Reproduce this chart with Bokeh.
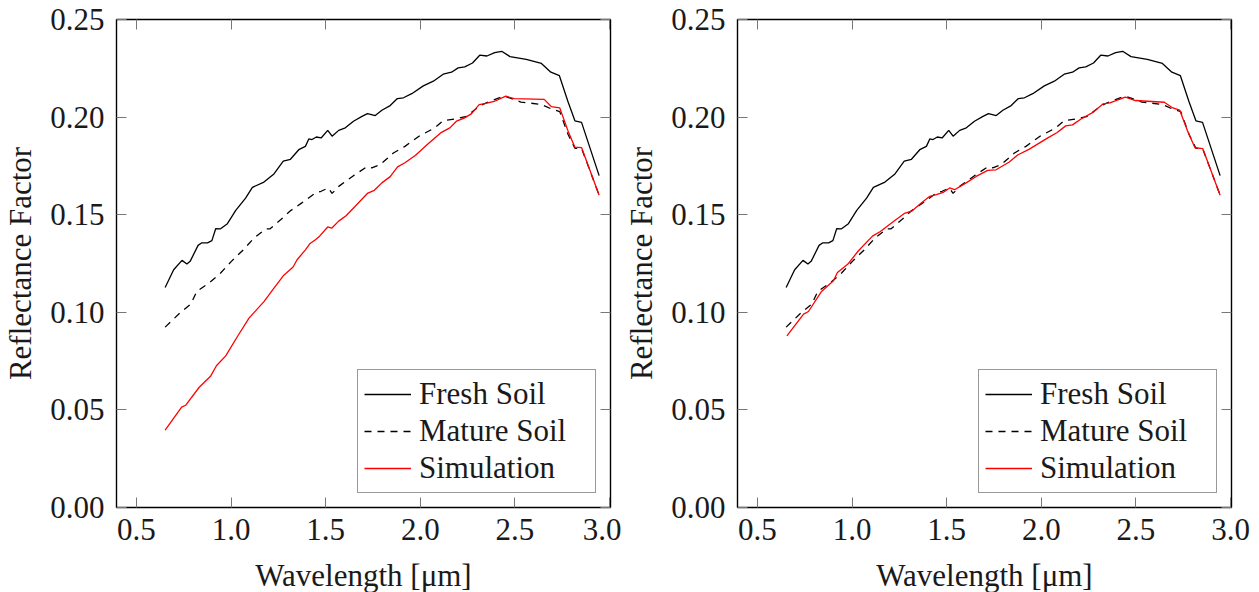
from bokeh.plotting import figure
from bokeh.models import (Range1d, FixedTicker, NumeralTickFormatter, LinearAxis,
                          Legend, LegendItem, CustomJSTickFormatter)
from bokeh.layouts import row
from bokeh.embed import file_html
from bokeh.resources import INLINE

# ---------------- data ----------------
wl_fresh = [0.652, 0.697, 0.741, 0.767, 0.784, 0.826, 0.846, 0.876, 0.899, 0.919,
            0.943, 0.981, 1.025, 1.077, 1.113, 1.174, 1.227, 1.276, 1.314, 1.358,
            1.393, 1.411, 1.428, 1.451, 1.476, 1.511, 1.534, 1.569, 1.604, 1.647,
            1.692, 1.721, 1.762, 1.797, 1.841, 1.879, 1.911, 1.955, 2.016, 2.069,
            2.121, 2.165, 2.200, 2.235, 2.276, 2.314, 2.352, 2.393, 2.430, 2.474,
            2.560, 2.640, 2.690, 2.735, 2.781, 2.817, 2.852, 2.945]
fresh = [0.1127, 0.1218, 0.1266, 0.1247, 0.1261, 0.1343, 0.1356, 0.1356, 0.1367, 0.1428,
         0.1427, 0.1454, 0.1522, 0.1585, 0.1640, 0.1667, 0.1709, 0.1774, 0.1784, 0.1833,
         0.1850, 0.1888, 0.1885, 0.1898, 0.1893, 0.1932, 0.1902, 0.1932, 0.1945, 0.1979,
         0.2004, 0.2018, 0.2008, 0.2035, 0.2059, 0.2095, 0.2099, 0.2120, 0.2160, 0.2184,
         0.2220, 0.2230, 0.2252, 0.2257, 0.2277, 0.2317, 0.2313, 0.2330, 0.2337, 0.2310,
         0.2296, 0.2275, 0.2230, 0.2212, 0.2077, 0.1981, 0.1973, 0.1700]

wl_mature = [0.652, 0.735, 0.788, 0.819, 0.884, 0.945, 1.002, 1.065, 1.121, 1.183,
             1.205, 1.262, 1.314, 1.376, 1.446, 1.476, 1.515, 1.534, 1.569, 1.647,
             1.718, 1.744, 1.788, 1.858, 1.919, 1.998, 2.077, 2.121, 2.191, 2.244,
             2.288, 2.323, 2.367, 2.420, 2.452, 2.532, 2.639, 2.692, 2.737, 2.781,
             2.817, 2.852, 2.945]
mature = [0.0924, 0.1001, 0.1042, 0.1107, 0.1150, 0.1201, 0.1261, 0.1320, 0.1380, 0.1427,
          0.1427, 0.1474, 0.1520, 0.1562, 0.1611, 0.1620, 0.1637, 0.1609, 0.1645, 0.1700,
          0.1746, 0.1740, 0.1756, 0.1816, 0.1850, 0.1905, 0.1945, 0.1982, 0.1991, 0.2004,
          0.2038, 0.2062, 0.2081, 0.2100, 0.2105, 0.2077, 0.2065, 0.2042, 0.2028, 0.1911,
          0.1840, 0.1840, 0.1600]

# simulation, left panel
wl_sim_left = [0.652, 0.739, 0.761, 0.832, 0.893, 0.923, 0.972, 1.034, 1.095, 1.174,
               1.223, 1.276, 1.328, 1.349, 1.393, 1.416, 1.446, 1.468, 1.511, 1.532,
               1.569, 1.608, 1.660, 1.723, 1.757, 1.797, 1.841, 1.880, 1.919, 1.975,
               2.040, 2.112, 2.156, 2.191, 2.235, 2.271, 2.311, 2.341, 2.390, 2.452,
               2.496, 2.655, 2.692, 2.737, 2.781, 2.817, 2.852, 2.945]
sim_left = [0.0397, 0.0514, 0.0524, 0.0616, 0.0674, 0.0726, 0.0777, 0.0876, 0.0970, 0.1055,
            0.1119, 0.1187, 0.1232, 0.1269, 0.1320, 0.1351, 0.1372, 0.1390, 0.1437, 0.1431,
            0.1467, 0.1495, 0.1547, 0.1611, 0.1625, 0.1663, 0.1695, 0.1745, 0.1766, 0.1805,
            0.1862, 0.1922, 0.1945, 0.1979, 0.1996, 0.2018, 0.2064, 0.2069, 0.2080, 0.2107,
            0.2095, 0.2091, 0.2054, 0.2047, 0.1928, 0.1846, 0.1844, 0.1600]

# simulation, right panel
wl_sim_right = [0.656, 0.744, 0.770, 0.839, 0.902, 0.923, 0.977, 1.033, 1.108, 1.150,
                1.205, 1.278, 1.318, 1.366, 1.411, 1.446, 1.481, 1.516, 1.542, 1.603,
                1.656, 1.717, 1.761, 1.831, 1.875, 1.937, 2.030, 2.084, 2.129, 2.165,
                2.210, 2.273, 2.327, 2.363, 2.444, 2.497, 2.650, 2.695, 2.731, 2.776,
                2.812, 2.853, 2.945]
sim_right = [0.0879, 0.0991, 0.1004, 0.1107, 0.1162, 0.1204, 0.1246, 0.1314, 0.1390, 0.1414,
             0.1455, 0.1507, 0.1520, 0.1560, 0.1594, 0.1603, 0.1614, 0.1637, 0.1628, 0.1663,
             0.1696, 0.1727, 0.1730, 0.1770, 0.1806, 0.1836, 0.1891, 0.1921, 0.1955, 0.1960,
             0.1990, 0.2024, 0.2068, 0.2073, 0.2102, 0.2085, 0.2076, 0.2047, 0.2036, 0.1921,
             0.1843, 0.1839, 0.1600]

x_ticks = [0.5, 1.0, 1.5, 2.0, 2.5, 3.0]
y_ticks = [0.0, 0.05, 0.10, 0.15, 0.20, 0.25]
series_labels = ["Fresh Soil", "Mature Soil", "Simulation"]

FONT = "'Liberation Serif', 'DejaVu Serif', serif"
TXT = "#1a1a1a"
FS = "31px"


def style_axis(ax, ticks, show_labels=True):
    ax.ticker = FixedTicker(ticks=ticks)
    ax.major_tick_in = 10
    ax.major_tick_out = 0
    ax.minor_tick_in = 0
    ax.minor_tick_out = 0
    ax.major_tick_line_color = "#777777"
    ax.major_tick_line_width = 1
    ax.axis_line_color = None
    ax.major_label_text_font = FONT
    ax.major_label_text_font_size = FS
    ax.major_label_text_color = TXT
    ax.axis_label_text_font = FONT
    ax.axis_label_text_font_size = FS
    ax.axis_label_text_color = TXT
    ax.axis_label_text_font_style = "normal"
    if not show_labels:
        ax.formatter = CustomJSTickFormatter(code="return ''")
        ax.major_label_standoff = 0


def make_panel(sim_x, sim_y, right_border):
    p = figure(frame_width=494, frame_height=488,
               x_range=Range1d(0.395, 3.005), y_range=Range1d(0.0, 0.25),
               output_backend="svg", toolbar_location=None,
               min_border_left=116, min_border_right=right_border,
               min_border_top=19, min_border_bottom=85,
               x_axis_label="Wavelength [μm]", y_axis_label="Reflectance Factor")
    p.grid.visible = False
    p.outline_line_color = "black"
    p.outline_line_width = 1.4
    p.background_fill_color = "white"
    p.border_fill_color = "white"

    style_axis(p.xaxis[0], x_ticks)
    p.xaxis[0].formatter = NumeralTickFormatter(format="0.0")
    p.xaxis[0].major_label_standoff = 11
    p.xaxis[0].axis_label_standoff = 15
    style_axis(p.yaxis[0], y_ticks)
    p.yaxis[0].formatter = NumeralTickFormatter(format="0.00")
    p.yaxis[0].major_label_standoff = 12
    p.yaxis[0].axis_label_standoff = 9

    top = LinearAxis()
    style_axis(top, x_ticks, show_labels=False)
    p.add_layout(top, "above")
    right = LinearAxis()
    style_axis(right, y_ticks, show_labels=False)
    p.add_layout(right, "right")

    r1 = p.line(wl_fresh, fresh, line_color="black", line_width=1.3)
    r2 = p.line(wl_mature, mature, line_color="black", line_width=1.3, line_dash="7 6")
    r3 = p.line(sim_x, sim_y, line_color="#ff0000", line_width=1.3)

    legend = Legend(items=[LegendItem(label=series_labels[0], renderers=[r1]),
                           LegendItem(label=series_labels[1], renderers=[r2]),
                           LegendItem(label=series_labels[2], renderers=[r3])],
                    location="bottom_right")
    legend.label_text_font = FONT
    legend.label_text_font_size = FS
    legend.label_text_color = TXT
    legend.border_line_color = "#333333"
    legend.border_line_width = 1
    legend.background_fill_alpha = 1
    legend.padding = 6
    legend.spacing = 1
    legend.margin = 14
    legend.glyph_width = 47
    legend.glyph_height = 36
    legend.label_height = 36
    legend.label_width = 170
    legend.label_standoff = 8
    p.add_layout(legend)
    return p


p1 = make_panel(wl_sim_left, sim_left, 11)
p2 = make_panel(wl_sim_right, sim_right, 28)
layout = row(p1, p2)

open("out.html", "w").write(file_html(layout, INLINE))
